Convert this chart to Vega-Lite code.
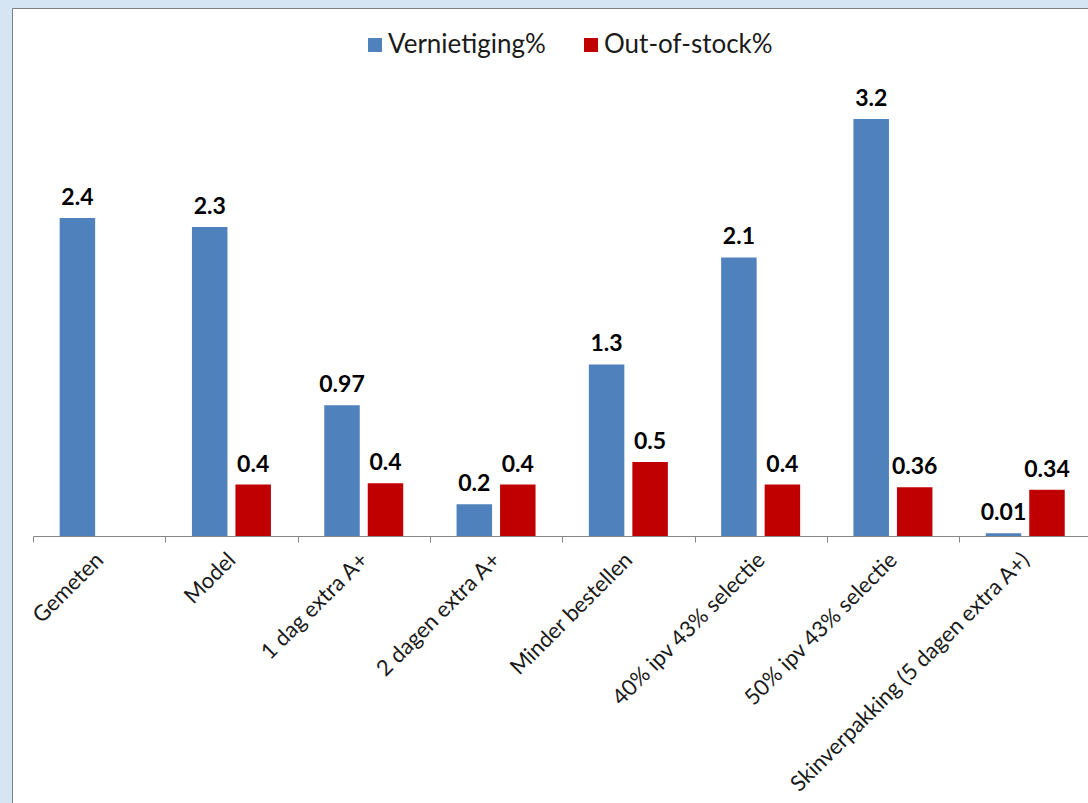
{
  "$schema": "https://vega.github.io/schema/vega-lite/v6.json",
  "width": 1080,
  "height": 799,
  "autosize": {"type": "none"},
  "padding": {"left": 12, "top": 8, "right": -4, "bottom": -4},
  "background": "#D6E5F3",
  "config": {
    "view": {"fill": "white", "stroke": "#7f7f7f", "strokeWidth": 1},
    "font": "Lato"
  },
  "data": {
    "values": [
      {"category": "Gemeten", "series": "Vernietiging%", "value": 2.41, "label": "2.4"},
      {"category": "Model", "series": "Vernietiging%", "value": 2.34, "label": "2.3"},
      {"category": "Model", "series": "Out-of-stock%", "value": 0.39, "label": "0.4"},
      {"category": "1 dag extra A+", "series": "Vernietiging%", "value": 0.99, "label": "0.97"},
      {"category": "1 dag extra A+", "series": "Out-of-stock%", "value": 0.4, "label": "0.4"},
      {"category": "2 dagen extra A+", "series": "Vernietiging%", "value": 0.24, "label": "0.2"},
      {"category": "2 dagen extra A+", "series": "Out-of-stock%", "value": 0.39, "label": "0.4"},
      {"category": "Minder bestellen", "series": "Vernietiging%", "value": 1.3, "label": "1.3"},
      {"category": "Minder bestellen", "series": "Out-of-stock%", "value": 0.56, "label": "0.5"},
      {"category": "40% ipv 43% selectie", "series": "Vernietiging%", "value": 2.11, "label": "2.1"},
      {"category": "40% ipv 43% selectie", "series": "Out-of-stock%", "value": 0.39, "label": "0.4"},
      {"category": "50% ipv 43% selectie", "series": "Vernietiging%", "value": 3.16, "label": "3.2"},
      {"category": "50% ipv 43% selectie", "series": "Out-of-stock%", "value": 0.37, "label": "0.36"},
      {"category": "Skinverpakking (5 dagen extra A+)", "series": "Vernietiging%", "value": 0.02, "label": "0.01"},
      {"category": "Skinverpakking (5 dagen extra A+)", "series": "Out-of-stock%", "value": 0.35, "label": "0.34"}
    ]
  },
  "encoding": {
    "x": {
      "field": "category",
      "type": "nominal",
      "sort": null,
      "scale": {"range": [21, 1079.4], "paddingInner": 0, "paddingOuter": 0},
      "axis": {
        "title": null,
        "orient": "bottom",
        "offset": -271,
        "domainColor": "#868686",
        "tickColor": "#868686",
        "tickSize": 6,
        "tickBand": "extent",
        "labelAngle": -45,
        "labelAlign": "right",
        "labelBaseline": "middle",
        "labelPadding": 14,
        "labelFontSize": 22,
        "labelFont": "Lato",
        "labelColor": "#1a1a1a",
        "labelLimit": 1000,
        "labelOverlap": false,
        "labelBound": false,
        "labelFlush": false
      }
    },
    "xOffset": {
      "field": "series",
      "type": "nominal",
      "sort": ["Vernietiging%", "Out-of-stock%"],
      "scale": {"paddingInner": 0.184, "paddingOuter": 0.613}
    },
    "y": {
      "field": "value",
      "type": "quantitative",
      "scale": {"domain": [0, 4], "range": [528, 0]},
      "axis": null
    }
  },
  "layer": [
    {
      "mark": {"type": "bar"},
      "encoding": {
        "color": {
          "field": "series",
          "type": "nominal",
          "sort": ["Vernietiging%", "Out-of-stock%"],
          "scale": {"domain": ["Vernietiging%", "Out-of-stock%"], "range": ["#4F81BD", "#C00000"]},
          "legend": {
            "title": null,
            "orient": "none",
            "legendX": 350,
            "legendY": 24,
            "direction": "horizontal",
            "symbolType": "square",
            "symbolSize": 196,
            "symbolStrokeWidth": 0,
            "labelFontSize": 26,
            "labelFont": "Lato",
            "labelColor": "#1a1a1a",
            "labelOffset": 0,
            "columnPadding": 32,
            "labelLimit": 400
          }
        }
      }
    },
    {
      "mark": {"type": "text", "fontWeight": "bold", "fontSize": 23, "dy": -13, "baseline": "alphabetic", "color": "black", "font": "Lato"},
      "encoding": {"text": {"field": "label"}}
    }
  ]
}
